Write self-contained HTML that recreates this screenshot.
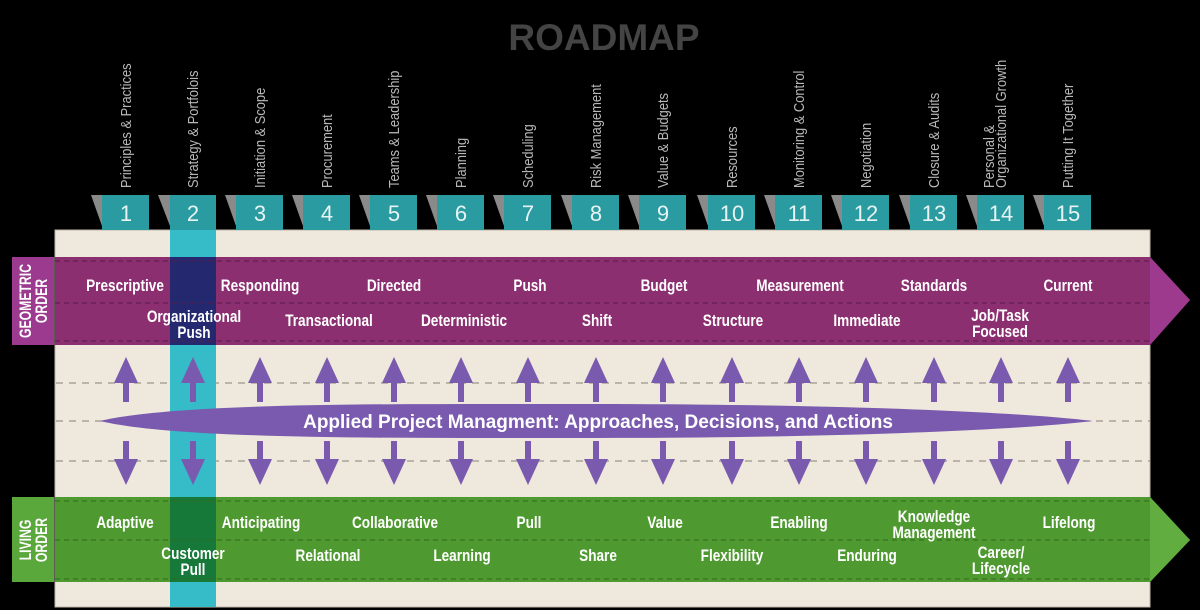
<!DOCTYPE html>
<html><head><meta charset="utf-8">
<style>
html,body{margin:0;padding:0;background:#000;}
svg{display:block;}
.c{font-family:"Liberation Sans",sans-serif;font-weight:bold;fill:#fff;font-size:17px;text-anchor:middle;}
.h{font-family:"Liberation Sans",sans-serif;fill:#b8b8b8;font-size:15px;}
.n{font-family:"Liberation Sans","DejaVu Sans",sans-serif;fill:#e8f4f4;font-size:22px;text-anchor:middle;}
</style></head>
<body>
<svg width="1200" height="610" viewBox="0 0 1200 610" xmlns="http://www.w3.org/2000/svg">
<rect width="1200" height="610" fill="#000"/>
<text x="604" y="50" font-family="Liberation Sans, sans-serif" font-weight="bold" font-size="37" fill="#444" text-anchor="middle">ROADMAP</text>

<rect x="55" y="230" width="1095" height="377" fill="#efe9dd" stroke="#bdb6aa" stroke-width="1"/>

<g stroke="#9a948a" stroke-width="1.2" stroke-dasharray="7,6">
<line x1="56" y1="383" x2="1150" y2="383"/>
<line x1="56" y1="421" x2="1150" y2="421"/>
<line x1="56" y1="461" x2="1150" y2="461"/>
</g>

<rect x="170" y="195" width="46" height="412" fill="#35bcc8"/>

<polygon points="55,257 1150,257 1190,300 1150,345 55,345" fill="#8b2f70"/>
<polygon points="1150,257 1190,300 1150,345" fill="#9e3a8e"/>
<rect x="170" y="257" width="46" height="88" fill="#24286e"/>
<g stroke="#5a1a48" stroke-width="1" stroke-dasharray="5,4" fill="none">
<line x1="55" y1="261" x2="1150" y2="261"/>
<line x1="55" y1="303" x2="1150" y2="303"/>
<line x1="55" y1="341" x2="1150" y2="341"/>
</g>
<rect x="12" y="257" width="42" height="88" fill="#9b3a8e"/>
<text transform="translate(31,301) rotate(-90) scale(0.72,1)" class="c" font-size="15"><tspan x="0" dy="0">GEOMETRIC</tspan><tspan x="0" dy="16">ORDER</tspan></text>

<polygon points="55,497 1150,497 1190,540 1150,582 55,582" fill="#4f9a30"/>
<polygon points="1150,497 1190,540 1150,582" fill="#62ad40"/>
<rect x="170" y="497" width="46" height="85" fill="#16793a"/>
<g stroke="#2f6a1a" stroke-width="1" stroke-dasharray="5,4" fill="none">
<line x1="55" y1="501" x2="1150" y2="501"/>
<line x1="55" y1="540" x2="1150" y2="540"/>
<line x1="55" y1="579" x2="1150" y2="579"/>
</g>
<rect x="12" y="497" width="42" height="85" fill="#5aa73c"/>
<text transform="translate(31,540) rotate(-90) scale(0.72,1)" class="c" font-size="15"><tspan x="0" dy="0">LIVING</tspan><tspan x="0" dy="16">ORDER</tspan></text>

<defs>
<path id="a" d="M0,357 L12,383 L3,383 L3,402 L-3,402 L-3,383 L-12,383 Z M-3,441 L3,441 L3,459 L12,459 L0,485 L-12,459 L-3,459 Z"/>
</defs>
<g fill="#7a5aae">
<use href="#a" x="126"/><use href="#a" x="193"/><use href="#a" x="260"/><use href="#a" x="327"/><use href="#a" x="394"/>
<use href="#a" x="461"/><use href="#a" x="528"/><use href="#a" x="596"/><use href="#a" x="663"/><use href="#a" x="732"/>
<use href="#a" x="799"/><use href="#a" x="866"/><use href="#a" x="934"/><use href="#a" x="1001"/><use href="#a" x="1068"/>
</g>

<path d="M100,421 C180,402 400,404 598,404 C800,404 1000,410 1093,421 C1000,432 800,438 598,438 C400,438 180,440 100,421 Z" fill="#7a5aae"/>
<text x="598" y="428" font-family="Liberation Sans, sans-serif" font-weight="bold" font-size="19" fill="#fff" text-anchor="middle">Applied Project Managment: Approaches, Decisions, and Actions</text>

<g fill="#2a9ba0">
<rect x="102" y="195" width="47" height="35"/><rect x="170" y="195" width="46" height="35"/>
<rect x="236" y="195" width="47" height="35"/><rect x="303" y="195" width="47" height="35"/>
<rect x="370" y="195" width="47" height="35"/><rect x="437" y="195" width="47" height="35"/>
<rect x="504" y="195" width="47" height="35"/><rect x="572" y="195" width="47" height="35"/>
<rect x="639" y="195" width="47" height="35"/><rect x="708" y="195" width="47" height="35"/>
<rect x="775" y="195" width="47" height="35"/><rect x="842" y="195" width="47" height="35"/>
<rect x="910" y="195" width="47" height="35"/><rect x="977" y="195" width="47" height="35"/>
<rect x="1044" y="195" width="47" height="35"/>
</g>
<g fill="#8a8a8a">
<polygon points="91,195 102,195 102,226"/><polygon points="158,195 170,195 170,226"/>
<polygon points="225,195 236,195 236,226"/><polygon points="292,195 303,195 303,226"/>
<polygon points="359,195 370,195 370,226"/><polygon points="426,195 437,195 437,226"/>
<polygon points="493,195 504,195 504,226"/><polygon points="561,195 572,195 572,226"/>
<polygon points="628,195 639,195 639,226"/><polygon points="697,195 708,195 708,226"/>
<polygon points="764,195 775,195 775,226"/><polygon points="831,195 842,195 842,226"/>
<polygon points="899,195 910,195 910,226"/><polygon points="966,195 977,195 977,226"/>
<polygon points="1033,195 1044,195 1044,226"/>
</g>
<g class="n">
<text x="126" y="221">1</text><text x="193" y="221">2</text><text x="260" y="221">3</text><text x="327" y="221">4</text><text x="394" y="221">5</text>
<text x="461" y="221">6</text><text x="528" y="221">7</text><text x="596" y="221">8</text><text x="663" y="221">9</text><text x="732" y="221">10</text>
<text x="799" y="221">11</text><text x="866" y="221">12</text><text x="934" y="221">13</text><text x="1001" y="221">14</text><text x="1068" y="221">15</text>
</g>

<g class="h">
<text transform="translate(131,188) rotate(-90) scale(0.86,1)">Principles &amp; Practices</text>
<text transform="translate(198,188) rotate(-90) scale(0.86,1)">Strategy &amp; Portfolois</text>
<text transform="translate(265,188) rotate(-90) scale(0.86,1)">Initiation &amp; Scope</text>
<text transform="translate(332,188) rotate(-90) scale(0.86,1)">Procurement</text>
<text transform="translate(399,188) rotate(-90) scale(0.86,1)">Teams &amp; Leadership</text>
<text transform="translate(466,188) rotate(-90) scale(0.86,1)">Planning</text>
<text transform="translate(533,188) rotate(-90) scale(0.86,1)">Scheduling</text>
<text transform="translate(601,188) rotate(-90) scale(0.86,1)">Risk Management</text>
<text transform="translate(668,188) rotate(-90) scale(0.86,1)">Value &amp; Budgets</text>
<text transform="translate(737,188) rotate(-90) scale(0.86,1)">Resources</text>
<text transform="translate(804,188) rotate(-90) scale(0.86,1)">Monitoring &amp; Control</text>
<text transform="translate(871,188) rotate(-90) scale(0.86,1)">Negotiation</text>
<text transform="translate(939,188) rotate(-90) scale(0.86,1)">Closure &amp; Audits</text>
<text transform="translate(994,188) rotate(-90) scale(0.86,1)"><tspan x="0" y="0">Personal &amp;</tspan><tspan x="0" y="12">Organizational Growth</tspan></text>
<text transform="translate(1073,188) rotate(-90) scale(0.86,1)">Putting It Together</text>
</g>

<g class="c">
<text transform="translate(125,291) scale(0.8,1)">Prescriptive</text>
<text transform="translate(260,291) scale(0.8,1)">Responding</text>
<text transform="translate(394,291) scale(0.8,1)">Directed</text>
<text transform="translate(530,291) scale(0.8,1)">Push</text>
<text transform="translate(664,291) scale(0.8,1)">Budget</text>
<text transform="translate(800,291) scale(0.8,1)">Measurement</text>
<text transform="translate(934,291) scale(0.8,1)">Standards</text>
<text transform="translate(1068,291) scale(0.8,1)">Current</text>
<text transform="translate(194,322) scale(0.8,1)">Organizational</text>
<text transform="translate(194,338) scale(0.8,1)">Push</text>
<text transform="translate(329,326) scale(0.8,1)">Transactional</text>
<text transform="translate(464,326) scale(0.8,1)">Deterministic</text>
<text transform="translate(597,326) scale(0.8,1)">Shift</text>
<text transform="translate(733,326) scale(0.8,1)">Structure</text>
<text transform="translate(867,326) scale(0.8,1)">Immediate</text>
<text transform="translate(1000,321) scale(0.8,1)">Job/Task</text>
<text transform="translate(1000,337) scale(0.8,1)">Focused</text>
</g>
<g class="c">
<text transform="translate(125,528) scale(0.8,1)">Adaptive</text>
<text transform="translate(261,528) scale(0.8,1)">Anticipating</text>
<text transform="translate(395,528) scale(0.8,1)">Collaborative</text>
<text transform="translate(529,528) scale(0.8,1)">Pull</text>
<text transform="translate(665,528) scale(0.8,1)">Value</text>
<text transform="translate(799,528) scale(0.8,1)">Enabling</text>
<text transform="translate(934,522) scale(0.8,1)">Knowledge</text>
<text transform="translate(934,538) scale(0.8,1)">Management</text>
<text transform="translate(1069,528) scale(0.8,1)">Lifelong</text>
<text transform="translate(193,559) scale(0.8,1)">Customer</text>
<text transform="translate(193,575) scale(0.8,1)">Pull</text>
<text transform="translate(328,561) scale(0.8,1)">Relational</text>
<text transform="translate(462,561) scale(0.8,1)">Learning</text>
<text transform="translate(598,561) scale(0.8,1)">Share</text>
<text transform="translate(732,561) scale(0.8,1)">Flexibility</text>
<text transform="translate(867,561) scale(0.8,1)">Enduring</text>
<text transform="translate(1001,558) scale(0.8,1)">Career/</text>
<text transform="translate(1001,574) scale(0.8,1)">Lifecycle</text>
</g>
</svg>
</body></html>
